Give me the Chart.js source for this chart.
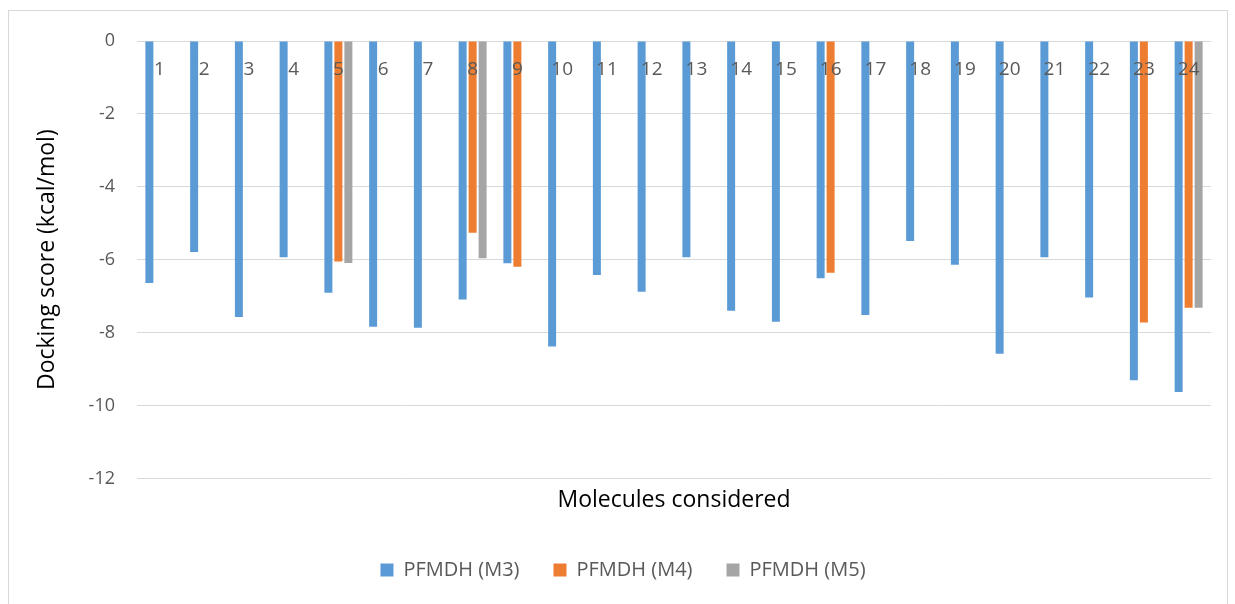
<!DOCTYPE html>
<html>
<head>
<meta charset="utf-8">
<script src="https://cdn.jsdelivr.net/npm/chart.js@4.4.1/dist/chart.umd.min.js"></script>
<style>
  html, body { margin: 0; padding: 0; background: #ffffff; overflow: hidden; }
  #frame {
    position: absolute; left: 8px; top: 10px;
    width: 1218px; height: 594px;
    border: 1px solid #d9d9d9; background: #ffffff;
  }
  canvas { display: block; }
</style>
</head>
<body>
<div id="frame"><canvas id="chart" width="1218" height="594"></canvas></div>
<script>
// Molecule numbers along the category axis
const molecules = ['1','2','3','4','5','6','7','8','9','10','11','12',
                   '13','14','15','16','17','18','19','20','21','22','23','24'];

// Docking scores (kcal/mol) per model; null where a molecule was not docked
const scoresM3 = [-6.64, -5.79, -7.57, -5.93, -6.91, -7.84, -7.87, -7.09, -6.10, -8.38, -6.42, -6.88,
                  -5.93, -7.40, -7.70, -6.51, -7.52, -5.49, -6.14, -8.58, -5.93, -7.04, -9.31, -9.63];
const scoresM4 = [null, null, null, null, -6.05, null, null, -5.26, -6.19, null, null, null,
                  null, null, null, -6.36, null, null, null, null, null, null, -7.72, -7.32];
const scoresM5 = [null, null, null, null, -6.09, null, null, -5.96, null, null, null, null,
                  null, null, null, null, null, null, null, null, null, null, null, -7.32];

const seriesNames = ['PFMDH (M3)', 'PFMDH (M4)', 'PFMDH (M5)'];
const yTicks = [0, -2, -4, -6, -8, -10, -12];

const FONT = '"Open Sans", "DejaVu Sans", sans-serif';
const TEXT_GREY = '#595959';

const colours = ['#5b9bd5', '#ed7d31', '#a5a5a5'];
const seriesData = [scoresM3, scoresM4, scoresM5];

new Chart(document.getElementById('chart'), {
  type: 'bar',
  data: {
    labels: molecules,
    datasets: seriesData.map((values, i) => ({
      label: seriesNames[i],
      data: values,
      backgroundColor: colours[i],
      borderWidth: 0,
      categoryPercentage: 0.67,
      barPercentage: 0.8
    }))
  },
  options: {
    responsive: false,
    animation: false,
    events: [],
    layout: { padding: { top: 30, right: 16, left: 26, bottom: 15 } },
    scales: {
      // molecule numbers sit just under the zero line, drawn over the bars
      x: {
        type: 'category',
        position: { y: 0 },
        grid: { display: false },
        border: { display: false },
        ticks: {
          z: 1,
          color: TEXT_GREY,
          font: { family: FONT, size: 19 },
          padding: 9,
          maxRotation: 0,
          autoSkip: false
        },
        afterFit: (scale) => { scale.height = 0; }
      },
      xTitle: {
        type: 'category',
        position: 'bottom',
        labels: molecules,
        grid: { display: false },
        border: { display: false },
        ticks: { display: false },
        title: {
          display: true,
          text: 'Molecules considered',
          color: '#000000',
          font: { family: FONT, size: 23 },
          padding: { top: 0, bottom: 12 }
        }
      },
      y: {
        min: -12,
        max: 0,
        afterBuildTicks: (scale) => { scale.ticks = yTicks.map(v => ({ value: v })); },
        grid: { color: '#d9d9d9', lineWidth: 1, drawTicks: false },
        border: { display: false },
        ticks: {
          color: TEXT_GREY,
          font: { family: FONT, size: 18 },
          padding: 22
        },
        title: {
          display: true,
          text: 'Docking score (kcal/mol)',
          color: '#000000',
          font: { family: FONT, size: 23 },
          padding: { top: -1, bottom: 0 }
        },
        afterFit: (scale) => {
          scale.width = 102;
          scale.paddingTop = 0;
          scale.paddingBottom = 0;
        }
      }
    },
    plugins: {
      tooltip: { enabled: false },
      legend: {
        position: 'bottom',
        labels: {
          color: TEXT_GREY,
          font: { family: FONT, size: 20 },
          boxWidth: 13,
          boxHeight: 13,
          padding: 34
        }
      }
    }
  }
});
</script>
</body>
</html>
